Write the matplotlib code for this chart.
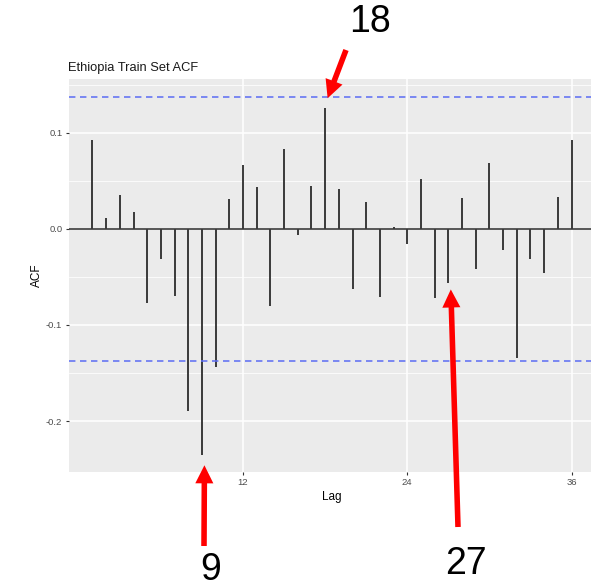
import numpy as np
import matplotlib
matplotlib.use("Agg")
import matplotlib.pyplot as plt

# autocorrelation of the training series, lags 1..36
lags = list(range(1, 37))
acf_values = [
    0.092, 0.011, 0.035, 0.018, -0.077, -0.031, -0.070, -0.189, -0.235, -0.144,
    0.031, 0.066, 0.044, -0.080, 0.083, -0.006, 0.045, 0.126, 0.042, -0.063,
    0.028, -0.071, 0.002, -0.016, 0.052, -0.072, -0.056, 0.032, -0.042, 0.069,
    -0.022, -0.134, -0.031, -0.046, 0.033, 0.092,
]
conf_limit = 0.137
x_ticks = [12, 24, 36]
y_ticks = [-0.2, -0.1, 0.0, 0.1]
y_minor = [-0.15, -0.05, 0.05, 0.15]

# lags highlighted with arrows: (lag, arrow tip y, label position in figure px)
callouts = [
    (18, 0.136, (370, 565), (346, 537)),
    (9, -0.246, (211, 17), (204, 41)),
    (27, -0.063, (466, 23), (458, 60)),
]

plt.rcParams['font.family'] = ['Liberation Sans', 'DejaVu Sans']

fig = plt.figure(figsize=(5.91, 5.87), dpi=100)
ax = fig.add_axes([68.5 / 591, 115 / 587, 527 / 591, 393 / 587])
ax.set_facecolor('#EBEBEB')

ax.set_xlim(-0.75, 37.75)
ax.set_ylim(-0.253, 0.156)

for y in y_minor:
    ax.axhline(y, color='white', lw=0.55, zorder=0)
for y in y_ticks:
    ax.axhline(y, color='white', lw=1.1, zorder=0)
for x in x_ticks:
    ax.axvline(x, color='white', lw=1.1, zorder=0)

ax.axhline(0, color='#3a3a3a', lw=1.2, zorder=2)
ax.vlines(lags, 0, acf_values, color='#3a3a3a', lw=1.4, zorder=2)
for c in (conf_limit, -conf_limit):
    ax.axhline(c, color='#5b6cf4', lw=1.1, dashes=(4.2, 3.0), zorder=3)

ax.set_xticks(x_ticks)
ax.set_yticks(y_ticks)
ax.set_yticklabels(['-0.2', '-0.1', '0.0', '0.1'])
ax.tick_params(axis='both', length=2.5, width=0.8, color='#333333',
               labelcolor='#4D4D4D', labelsize=6.8, pad=2)
for s in ax.spines.values():
    s.set_visible(False)

ax.set_xlabel('Lag', fontsize=8.5, color='black', labelpad=3)
ax.set_ylabel('ACF', fontsize=8.5, color='black', labelpad=2)
ax.set_title('Ethiopia Train Set ACF', loc='left', fontsize=9.3,
             color='#1a1a1a', pad=6)

for lag, tip_y, text_pos, tail_pos in callouts:
    fig.text(text_pos[0] / 591, text_pos[1] / 587, str(lag), fontsize=27,
             ha='center', va='center', color='black')
    ax.annotate('', xy=(lag + 0.18, tip_y), xycoords='data',
                xytext=(tail_pos[0] / 591, tail_pos[1] / 587),
                textcoords='figure fraction', annotation_clip=False,
                arrowprops=dict(arrowstyle='simple,head_length=1.3,head_width=1.3,tail_width=0.4',
                                mutation_scale=10, color='#ff0000', lw=0,
                                shrinkA=0, shrinkB=0))

fig.savefig('out.png', dpi=100)
